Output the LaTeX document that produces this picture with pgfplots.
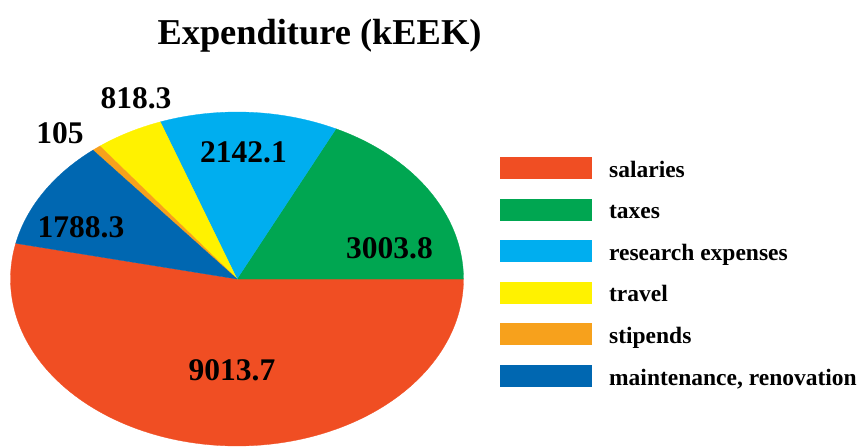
\documentclass[border=0pt]{standalone}
\usepackage{pgfplots}
\pgfplotsset{compat=1.18}
\usepackage{fontspec}
\setmainfont{Liberation Serif}
\definecolor{cSal}{RGB}{240,78,35}
\definecolor{cTax}{RGB}{0,166,81}
\definecolor{cRes}{RGB}{0,174,239}
\definecolor{cTra}{RGB}{255,242,0}
\definecolor{cSti}{RGB}{247,161,28}
\definecolor{cMai}{RGB}{0,103,177}
% data (kEEK)
\def\vSal{9013.7}
\def\vTax{3003.8}
\def\vRes{2142.1}
\def\vTra{818.3}
\def\vSti{105}
\def\vMai{1788.3}
\pgfmathsetmacro\tot{\vSal/100+\vTax/100+\vRes/100+\vTra/100+\vSti/100+\vMai/100}
\pgfmathsetmacro\k{360/\tot}
\pgfmathsetmacro\aA{-\k*(\vSal/100)}
\pgfmathsetmacro\aB{0}
\pgfmathsetmacro\aC{\aB+\k*(\vTax/100)}
\pgfmathsetmacro\aD{\aC+\k*(\vRes/100)}
\pgfmathsetmacro\aE{\aD+\k*(\vTra/100)}
\pgfmathsetmacro\aF{\aE+\k*(\vSti/100)}
\pgfmathsetmacro\aG{\aF+\k*(\vMai/100)}
\def\cx{237}\def\cy{279}\def\rx{226.5}\def\ry{167}
\begin{document}
\begin{tikzpicture}
\begin{axis}[
  width=862pt, height=446pt, scale only axis,
  xmin=0, xmax=862, ymin=0, ymax=446, y dir=reverse,
  hide axis, clip=false,
  legend image code/.code={\fill[#1] (0pt,-10.5pt) rectangle (91pt,10.5pt); \path[draw=none,fill=none] (109pt,0pt);},
  legend style={draw=none, fill=none, at={(axis cs:500,157)}, anchor=north west,
    inner sep=0pt, outer sep=0pt, row sep=20.3pt, column sep=0pt,
    font=\bfseries\fontsize{23.5}{24}\selectfont,
    nodes={inner sep=0pt, outer sep=0pt, text height=20pt, text depth=1pt}},
  legend cell align=left,
]
\path (axis cs:0,0) rectangle (axis cs:862,446);
\addplot[fill=cSal, draw=cSal, line width=0.3pt, domain=\aA:\aB, samples=120, variable=\t]
  ({\cx+\rx*cos(t)}, {\cy-\ry*sin(t)}) -- (axis cs:\cx,\cy) -- cycle;
\addlegendentry{salaries}
\addplot[fill=cTax, draw=cTax, line width=0.3pt, domain=\aB:\aC, samples=50, variable=\t]
  ({\cx+\rx*cos(t)}, {\cy-\ry*sin(t)}) -- (axis cs:\cx,\cy) -- cycle;
\addlegendentry{taxes}
\addplot[fill=cRes, draw=cRes, line width=0.3pt, domain=\aC:\aD, samples=40, variable=\t]
  ({\cx+\rx*cos(t)}, {\cy-\ry*sin(t)}) -- (axis cs:\cx,\cy) -- cycle;
\addlegendentry{research expenses}
\addplot[fill=cTra, draw=cTra, line width=0.3pt, domain=\aD:\aE, samples=20, variable=\t]
  ({\cx+\rx*cos(t)}, {\cy-\ry*sin(t)}) -- (axis cs:\cx,\cy) -- cycle;
\addlegendentry{travel}
\addplot[fill=cSti, draw=cSti, line width=0.3pt, domain=\aE:\aF, samples=5, variable=\t]
  ({\cx+\rx*cos(t)}, {\cy-\ry*sin(t)}) -- (axis cs:\cx,\cy) -- cycle;
\addlegendentry{stipends}
\addplot[fill=cMai, draw=cMai, line width=0.3pt, domain=\aF:\aG, samples=40, variable=\t]
  ({\cx+\rx*cos(t)}, {\cy-\ry*sin(t)}) -- (axis cs:\cx,\cy) -- cycle;
\addlegendentry{maintenance, renovation}
% labels
\begin{scope}[every node/.style={font=\bfseries\fontsize{31.5}{32}\selectfont, inner sep=0pt, anchor=center}]
\node at (axis cs:232,370) {9013.7};
\node at (axis cs:389.5,248) {3003.8};
\node at (axis cs:243.5,152) {2142.1};
\node at (axis cs:81,227) {1788.3};
\node at (axis cs:136,98) {818.3};
\node at (axis cs:60,133) {105};
\end{scope}
\node[font=\bfseries\fontsize{36.4}{40}\selectfont, anchor=base, inner sep=0pt] at (axis cs:319.5,44) {Expenditure (kEEK)};
\end{axis}
\end{tikzpicture}
\end{document}
